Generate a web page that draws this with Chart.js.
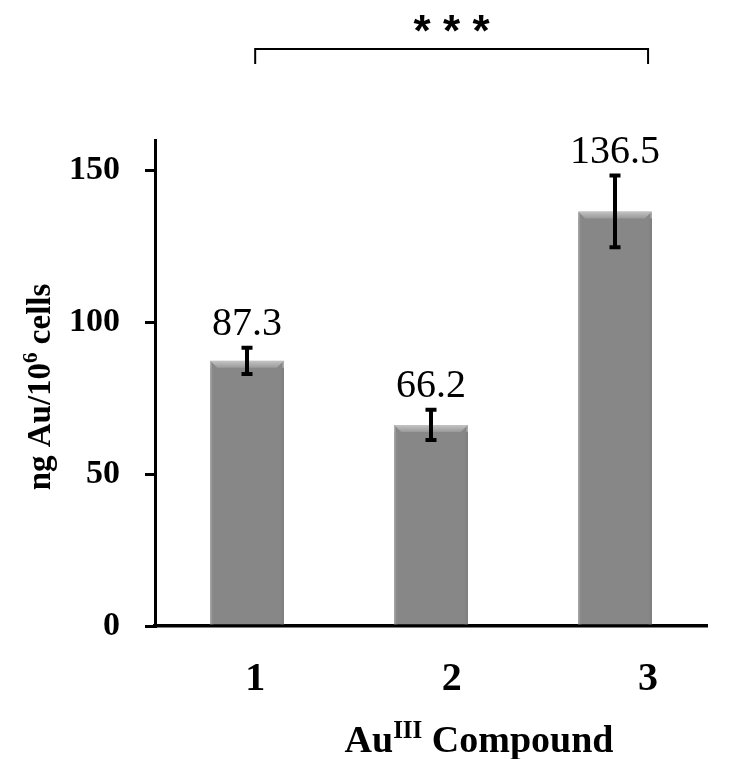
<!DOCTYPE html>
<html>
<head>
<meta charset="utf-8">
<script src="https://cdn.jsdelivr.net/npm/chart.js@4"></script>
<style>
  html, body { margin: 0; padding: 0; background: #ffffff; }
  canvas { display: block; }
</style>
</head>
<body>
<canvas id="c" width="737" height="759"></canvas>
<script>
const categories = ['1', '2', '3'];
const values = [87.3, 66.2, 136.5];
const errors = [4.3, 5.0, 11.8];
const yTicks = [0, 50, 100, 150];
const significance = '***';
const yTitleParts = [['ng Au/10', false], ['6', true], [' cells', false]];
const xTitleParts = [['Au', false], ['III', true], [' Compound', false]];

const SERIF = '"Liberation Serif", "Times New Roman", serif';

function drawParts(ctx, parts, size, cx, cy) {
  const supSize = Math.round(size * 0.65);
  let total = 0;
  const widths = parts.map(([t, sup]) => {
    ctx.font = 'bold ' + (sup ? supSize : size) + 'px ' + SERIF;
    const w = ctx.measureText(t).width;
    total += w;
    return w;
  });
  let x = cx - total / 2;
  ctx.textAlign = 'left';
  ctx.textBaseline = 'alphabetic';
  parts.forEach(([t, sup], i) => {
    ctx.font = 'bold ' + (sup ? supSize : size) + 'px ' + SERIF;
    ctx.fillText(t, x, sup ? cy - size * 0.38 : cy);
    x += widths[i];
  });
}

const decorPlugin = {
  id: 'decor',
  afterDatasetsDraw(chart) {
    const ctx = chart.ctx;
    const meta = chart.getDatasetMeta(0);
    const ys = chart.scales.y;
    ctx.save();
    // bevel on bars
    meta.data.forEach((el) => {
      const w = el.width, l = el.x - w / 2, r = el.x + w / 2, t = el.y, b = el.base;
      const bv = 7;
      let g = ctx.createLinearGradient(0, t, 0, t + bv);
      g.addColorStop(0, '#c4c4c4');
      g.addColorStop(1, '#9a9a9a');
      ctx.fillStyle = g;
      ctx.beginPath();
      ctx.moveTo(l, t); ctx.lineTo(r, t); ctx.lineTo(r - bv, t + bv); ctx.lineTo(l + bv, t + bv); ctx.closePath();
      ctx.fill();
      g = ctx.createLinearGradient(l, 0, l + 4, 0);
      g.addColorStop(0, '#a0a0a0'); g.addColorStop(1, 'rgba(136,136,136,0)');
      ctx.fillStyle = g;
      ctx.fillRect(l, t + bv, 4, b - t - bv);
      g = ctx.createLinearGradient(r - 4, 0, r, 0);
      g.addColorStop(0, 'rgba(136,136,136,0)'); g.addColorStop(1, '#6e6e6e');
      ctx.fillStyle = g;
      ctx.fillRect(r - 4, t + bv, 4, b - t - bv);
    });
    // error bars and value labels
    ctx.strokeStyle = '#000';
    ctx.fillStyle = '#000';
    meta.data.forEach((el, i) => {
      const top = ys.getPixelForValue(values[i] + errors[i]);
      const bot = ys.getPixelForValue(values[i] - errors[i]);
      ctx.lineWidth = 4;
      ctx.beginPath();
      ctx.moveTo(el.x, top); ctx.lineTo(el.x, bot);
      ctx.stroke();
      ctx.beginPath();
      ctx.moveTo(el.x - 5.5, top); ctx.lineTo(el.x + 5.5, top);
      ctx.moveTo(el.x - 5.5, bot); ctx.lineTo(el.x + 5.5, bot);
      ctx.stroke();
      ctx.font = '40px ' + SERIF;
      ctx.textAlign = 'center';
      ctx.textBaseline = 'alphabetic';
      ctx.fillText(values[i].toFixed(1), el.x, top - 13);
    });
    ctx.restore();
  },
  afterDraw(chart) {
    const ctx = chart.ctx;
    const x2 = chart.scales.x2;
    ctx.save();
    ctx.fillStyle = '#000';
    ctx.strokeStyle = '#000';
    // significance bracket
    const bl = x2.getPixelForValue(1), br = x2.getPixelForValue(3), bm = x2.getPixelForValue(2);
    ctx.lineWidth = 2;
    ctx.beginPath();
    ctx.moveTo(bl, 64); ctx.lineTo(bl, 49); ctx.lineTo(br, 49); ctx.lineTo(br, 64);
    ctx.stroke();
    ctx.font = 'bold 44px "Liberation Sans", Arial, sans-serif';
    ctx.textAlign = 'center';
    ctx.textBaseline = 'alphabetic';
    const stars = significance.split('');
    stars.forEach((s, i) => {
      const m = ctx.measureText(s);
      const cy = 23;
      const base = cy + (m.actualBoundingBoxAscent - m.actualBoundingBoxDescent) / 2;
      ctx.fillText(s, bm + (i - (stars.length - 1) / 2) * 29.5, base);
    });
    // x title
    drawParts(ctx, xTitleParts, 38, 479, 752);
    // y title
    ctx.translate(50, 387);
    ctx.rotate(-Math.PI / 2);
    drawParts(ctx, yTitleParts, 33, 0, 0);
    ctx.restore();
  }
};

new Chart(document.getElementById('c'), {
  type: 'bar',
  data: {
    labels: categories,
    datasets: [{
      data: values,
      xAxisID: 'x',
      yAxisID: 'y',
      backgroundColor: '#878787',
      borderColor: '#7c7c7c',
      borderWidth: 1,
      categoryPercentage: 1,
      barPercentage: 0.4
    }]
  },
  options: {
    responsive: false,
    animation: false,
    devicePixelRatio: 1,
    layout: { padding: { top: 140, right: 30, left: 0, bottom: 0 } },
    plugins: { legend: { display: false }, tooltip: { enabled: false }, title: { display: false } },
    scales: {
      x: {
        type: 'category',
        display: false,
        offset: true
      },
      x2: {
        type: 'linear',
        position: 'bottom',
        offset: false,
        min: 0.49,
        max: 3.3,
        afterBuildTicks(scale) { scale.ticks = categories.map((c, i) => ({ value: i + 1 })); },
        afterFit(scale) { scale.height = 133; },
        grid: { display: true, offset: false, drawOnChartArea: false, drawTicks: false, color: 'rgba(0,0,0,0)' },
        border: { display: true, color: '#000', width: 3.5 },
        ticks: {
          padding: 30,
          color: '#000',
          font: { family: SERIF, size: 40, weight: 'bold' },
          callback: (v) => categories[Math.round(v) - 1]
        }
      },
      y: {
        min: 0,
        max: 160,
        afterBuildTicks(scale) { scale.ticks = yTicks.map(v => ({ value: v })); },
        afterFit(scale) { scale.width = 155; },
        grid: { display: true, drawOnChartArea: false, drawTicks: true, tickLength: 10, color: '#000', lineWidth: 3 },
        border: { display: true, color: '#000', width: 3 },
        ticks: {
          padding: 25,
          color: '#000',
          font: { family: SERIF, size: 34, weight: 'bold' }
        }
      }
    }
  },
  plugins: [decorPlugin]
});
</script>
</body>
</html>
